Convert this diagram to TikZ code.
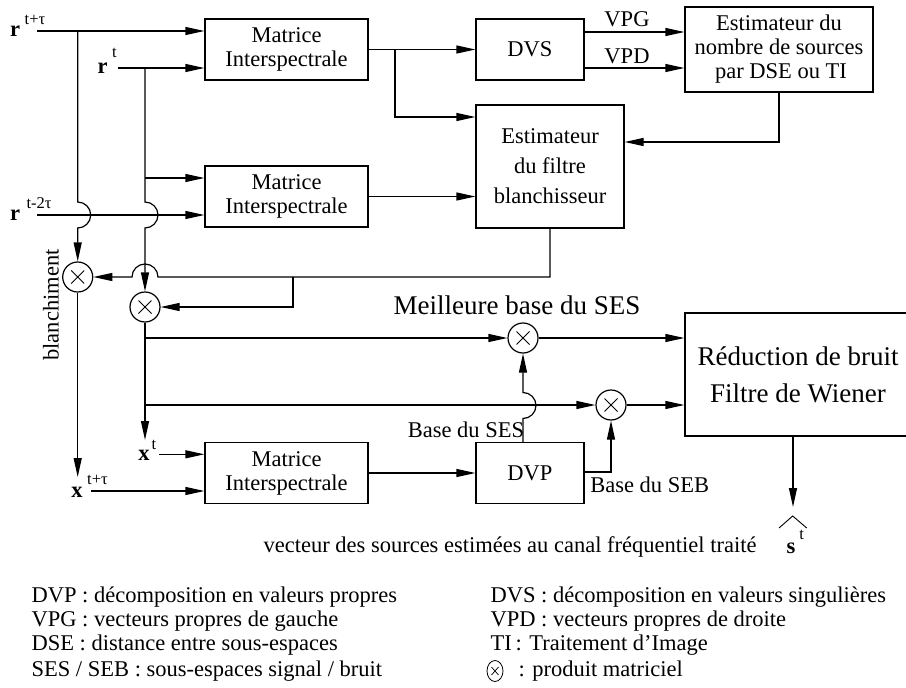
\documentclass[tikz,border=0pt]{standalone}
\usepackage{fontspec}
\setmainfont{Liberation Serif}
\usetikzlibrary{arrows.meta,shapes.geometric}
\newcommand\fmain{\fontsize{22.5}{24}\selectfont}
\newcommand\fbig{\fontsize{27}{37}\selectfont}
\newcommand\fsup{\fontsize{16.5}{18}\selectfont}
\begin{document}
\begin{tikzpicture}[x=1pt,y=-1pt,line width=1.2pt,
  box/.style={draw,rectangle,align=center,inner sep=0pt,font=\fmain},
  prod/.style={draw,circle,minimum size=30pt,inner sep=0pt,
    path picture={\draw[line width=0.9pt] (path picture bounding box.center) ++(-6.5pt,-6.5pt) -- ++(13pt,13pt)
      (path picture bounding box.center) ++(-6.5pt,6.5pt) -- ++(13pt,-13pt);}},
  conn/.style={-{Triangle[length=19pt,width=8pt]}},
  lbl/.style={inner sep=0pt,font=\fmain},
  suplbl/.style={inner sep=0pt,font=\fsup},
  leg/.style={inner sep=0pt,font=\fmain,anchor=base west},
]
\clip (0,0) rectangle (906,688);
% boxes
\node[box,minimum width=163pt,minimum height=61pt] (M1) at (286.5,49.5) {Matrice\\Interspectrale};
\node[box,minimum width=163pt,minimum height=61pt] (M2) at (286.5,196.5) {Matrice\\Interspectrale};
\node[box,minimum width=163pt,minimum height=61pt] (M3) at (286.5,473) {Matrice\\Interspectrale};
\node[box,minimum width=108pt,minimum height=61pt] (DVS) at (530,49.5) {DVS};
\node[box,minimum width=188pt,minimum height=85pt] (EST) at (779,49.5) {Estimateur du\\nombre de sources\\\hspace*{4pt}par DSE ou TI};
\node[box,minimum width=148pt,minimum height=123pt,font=\fontsize{22.5}{30}\selectfont] (FB) at (550,166.5) {Estimateur\\du filtre\\blanchisseur};
\node[box,minimum width=108pt,minimum height=61pt] (DVP) at (530,473) {DVP};
\node[box,minimum width=226pt,minimum height=123pt,font=\fbig] (RED) at (798,374.5) {R\'eduction de bruit\\Filtre de Wiener};
% products
\node[prod] (C1) at (77.7,277) {};
\node[prod] (C2) at (145,307) {};
\node[prod] (C3) at (523,338) {};
\node[prod] (C4) at (611,405) {};
% input labels
\node[lbl] (lrA) at (15,31.5) {\textbf{r}};
\node[suplbl] (srA) at (35,20) {t+τ};
\node[lbl] (lrB) at (102.5,68) {\textbf{r}};
\node[suplbl] (srB) at (114.5,53) {t};
\node[lbl] (lrC) at (15,215) {\textbf{r}};
\node[suplbl] (srC) at (39,203) {t-2τ};
\node[lbl] (lxT) at (144,455) {\textbf{x}};
\node[suplbl] (sxT) at (154,445) {t};
\node[lbl] (lxTT) at (77,492) {\textbf{x}};
\node[suplbl] (sxTT) at (97.5,480) {t+τ};
\node[lbl] (ls) at (791,548) {\textbf{s}};
\node[suplbl] (sst) at (801.7,535) {t};
\draw[line width=0.9pt] (779,528) -- (792.7,516) -- (806.7,528);
% coordinates
\coordinate (rA) at (37,31);
\coordinate (rB) at (118,68);
\coordinate (rC) at (37,215);
\coordinate (xTs) at (159,454.3);
\coordinate (xTTs) at (91,491);
\coordinate (xTtip) at (145,440);
\coordinate (xTTtip) at (77.7,477);
\coordinate (sT) at (793,507);
% connectors
\draw[conn] (rA) -- (M1.west |- rA);
\draw[conn] (C1 |- rA) -- (77.7,202) arc[start angle=-90,end angle=90,radius=13] -- (C1.north);
\draw[conn] (rB) -- (M1.west |- rB);
\draw[conn] (C2 |- rB) -- (145,202) arc[start angle=-90,end angle=90,radius=13] -- (C2.north);
\draw[conn] (145,178) -- (M2.west |- 145,178);
\draw[conn] (rC) -- (M2.west |- rC);
\draw[conn] (M1.east) -- (DVS.west);
\draw[conn] (395,49.5) -- (395,117) -- (FB.west |- 395,117);
\draw[conn] (M2.east) -- (FB.west |- M2.east);
\draw[conn] (DVS.east |- 0,32) -- (EST.west |- 0,32);
\draw[conn] (DVS.east |- 0,68) -- (EST.west |- 0,68);
\draw[conn] (EST.south) -- (779,142) -- (FB.east |- 0,142);
\draw[conn] (FB.south) -- (550,277) -- (158,277) arc[start angle=0,end angle=-180,radius=13] -- (C1.east);
\draw[conn] (293,277) -- (293,307) -- (C2.east);
\draw[conn] (C2.south) -- (xTtip);
\draw[conn] (145,338) -- (C3.west);
\draw[conn] (145,405) -- (C4.west);
\draw[conn] (C1.south) -- (xTTtip);
\draw[conn] (xTs) -- (M3.west |- xTs);
\draw[conn] (xTTs) -- (M3.west |- xTTs);
\draw[conn] (M3.east) -- (DVP.west);
\draw[conn] (C3 |- DVP.north) -- (523,418.5) arc[start angle=90,end angle=-90,radius=13] -- (C3.south);
\draw[conn] (DVP.east |- 0,472) -- (611,472) -- (C4.south);
\draw[conn] (C3.east) -- (RED.west |- C3);
\draw[conn] (C4.east) -- (RED.west |- C4);
\draw[conn] (sT |- RED.south) -- (sT);
% labels
\node[lbl] (tVPG) at (627,19) {VPG};
\node[lbl] (tVPD) at (627,56) {VPD};
\node[lbl,rotate=90] (tbl) at (51,305) {blanchiment};
\node[inner sep=0pt,font=\fbig] (tMB) at (517,305.5) {Meilleure base du SES};
\node[lbl] (tSES) at (466,429.5) {Base du SES};
\node[lbl] (tSEB) at (649.7,484.5) {Base du SEB};
\node[lbl,anchor=base] (tvec) at (510,552) {vecteur des sources estim\'ees au canal fr\'equentiel trait\'e};
% legend
\node[leg] at (31,602.7) {DVP : d\'ecomposition en valeurs propres};
\node[leg] at (31,626.7) {VPG : vecteurs propres de gauche};
\node[leg] at (31,650.7) {DSE : distance entre sous-espaces};
\node[leg] at (31,676) {SES / SEB : sous-espaces signal / bruit};
\node[leg] at (490,602.7) {DVS : d\'ecomposition en valeurs singuli\`eres};
\node[leg] at (490,626.7) {VPD : vecteurs propres de droite};
\node[leg] at (490,650.7) {TI};
\node[leg] at (515,650.7) {: Traitement d’Image};
\node[draw,ellipse,minimum width=16pt,minimum height=21pt,inner sep=0pt,line width=0.8pt,
  path picture={\draw[line width=0.7pt] (path picture bounding box.center) ++(-3.5pt,-4pt) -- ++(7pt,8pt)
      (path picture bounding box.center) ++(-3.5pt,4pt) -- ++(7pt,-8pt);}] (lgx) at (495,671) {};
\node[leg] at (518,676) {: produit matriciel};
\end{tikzpicture}
\end{document}
